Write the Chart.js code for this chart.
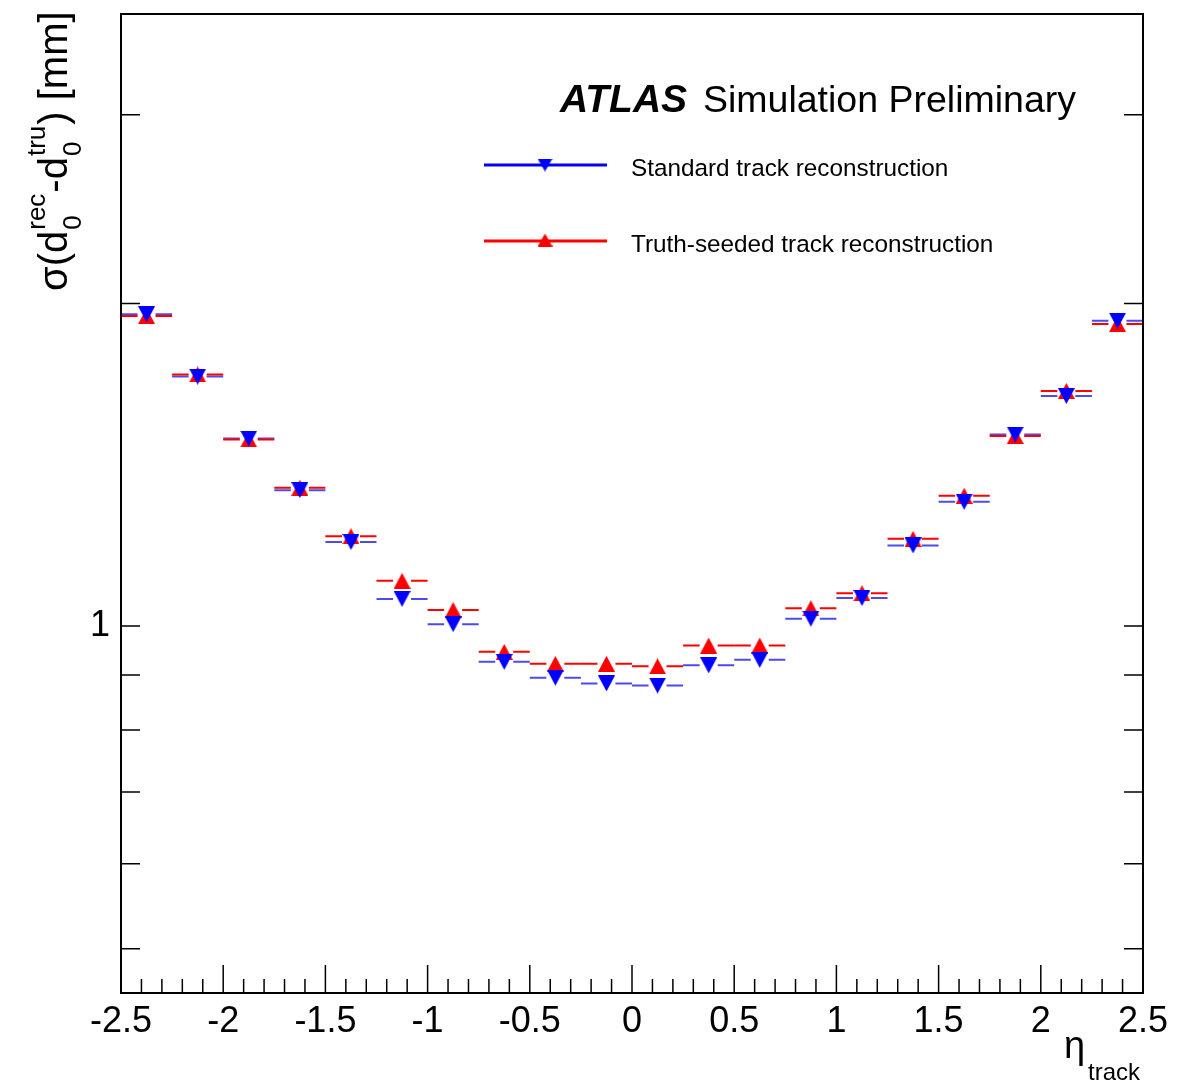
<!DOCTYPE html>
<html lang="en">
<head>
    <meta charset="UTF-8">
    <title>d0 resolution vs eta</title>
    <style>
        html, body { margin: 0; padding: 0; background: #fff; }
        #wrap { width: 1187px; height: 1085px; }
    </style>
</head>
<body>
    <div id="wrap">
        <canvas id="resChart" width="1187" height="1085"></canvas>
    </div>
    <script src="https://cdn.jsdelivr.net/npm/chart.js"></script>

    <script>
        // bin centres in eta, bin width 0.25
        const etaBins = [-2.375, -2.125, -1.875, -1.625, -1.375, -1.125, -0.875, -0.625, -0.375, -0.125,
                          0.125,  0.375,  0.625,  0.875,  1.125,  1.375,  1.625,  1.875,  2.125,  2.375];
        const binHalfWidth = 0.125;

        // sigma(d0 rec - d0 tru) in mm
        const standardReco = [1.954, 1.709, 1.496, 1.339, 1.198, 1.060, 1.004, 0.926, 0.895, 0.884,
                              0.880, 0.919, 0.930, 1.016, 1.062, 1.189, 1.306, 1.509, 1.639, 1.927];
        const truthSeededReco = [1.946, 1.717, 1.493, 1.346, 1.213, 1.102, 1.035, 0.946, 0.922, 0.922,
                                 0.917, 0.959, 0.959, 1.039, 1.073, 1.206, 1.323, 1.504, 1.657, 1.913];

        const seriesNames = ['Standard track reconstruction', 'Truth-seeded track reconstruction'];

        const xTickValues = [-2.5, -2, -1.5, -1, -0.5, 0, 0.5, 1, 1.5, 2, 2.5];
        const yTickValues = [0.5, 0.6, 0.7, 0.8, 0.9, 1, 2, 3];
        const yLabelledTicks = [1];
        const yMin = 0.4546;
        const yMax = 3.724;

        const FONT = '"Liberation Sans", Arial, Helvetica, sans-serif';
        const BLUE = '#0000ff';
        const RED = '#ff0000';

        // ROOT-like triangle markers, centred on their bounding box
        function makeTriangle(color, down, w, h) {
            const c = document.createElement('canvas');
            c.width = w;
            c.height = h;
            const g = c.getContext('2d');
            g.fillStyle = color;
            g.beginPath();
            if (down) {
                g.moveTo(0, 0); g.lineTo(w, 0); g.lineTo(w / 2, h);
            } else {
                g.moveTo(w / 2, 0); g.lineTo(w, h); g.lineTo(0, h);
            }
            g.closePath();
            g.fill();
            return c;
        }
        const downTri = makeTriangle(BLUE, true, 17, 16);
        const upTri = makeTriangle(RED, false, 17, 16);
        const downTriSmall = makeTriangle(BLUE, true, 15, 13);
        const upTriSmall = makeTriangle(RED, false, 15, 13);

        function toPoints(vals) {
            return etaBins.map((x, i) => ({ x: x, y: vals[i] }));
        }

        // error bars, frame, ticks, titles, legend
        const rootStyle = {
            id: 'rootStyle',
            beforeDatasetsDraw(chart) {
                const ctx = chart.ctx;
                const xs = chart.scales.x, ys = chart.scales.y;
                const gap = 9;
                ctx.save();
                chart.data.datasets.forEach(ds => {
                    ctx.strokeStyle = ds.barColor;
                    ctx.lineWidth = 2;
                    ds.data.forEach(p => {
                        const x0 = xs.getPixelForValue(p.x - binHalfWidth);
                        const x1 = xs.getPixelForValue(p.x + binHalfWidth);
                        const xc = xs.getPixelForValue(p.x);
                        const y = ys.getPixelForValue(p.y);
                        ctx.beginPath();
                        ctx.moveTo(x0, y); ctx.lineTo(xc - gap, y);
                        ctx.moveTo(xc + gap, y); ctx.lineTo(x1, y);
                        ctx.stroke();
                    });
                });
                ctx.restore();
            },
            afterDraw(chart) {
                const ctx = chart.ctx;
                const a = chart.chartArea;
                const xs = chart.scales.x, ys = chart.scales.y;
                ctx.save();

                // frame
                ctx.strokeStyle = '#000';
                ctx.lineWidth = 2;
                ctx.strokeRect(a.left, a.top, a.right - a.left, a.bottom - a.top);

                // x ticks, inward from the bottom
                ctx.lineWidth = 1.5;
                for (let i = -25; i <= 25; i++) {
                    const px = xs.getPixelForValue(i / 10);
                    const len = (i % 5 === 0) ? 28 : 14;
                    ctx.beginPath();
                    ctx.moveTo(px, a.bottom);
                    ctx.lineTo(px, a.bottom - len);
                    ctx.stroke();
                }
                // y ticks on both sides
                yTickValues.forEach(v => {
                    const py = ys.getPixelForValue(v);
                    ctx.beginPath();
                    ctx.moveTo(a.left, py); ctx.lineTo(a.left + 19, py);
                    ctx.moveTo(a.right, py); ctx.lineTo(a.right - 19, py);
                    ctx.stroke();
                });

                ctx.fillStyle = '#000';
                ctx.textBaseline = 'alphabetic';
                ctx.textAlign = 'left';

                // ATLAS label
                ctx.font = 'bold italic 39px ' + FONT;
                ctx.fillText('ATLAS', 560, 112);
                ctx.font = '37.5px ' + FONT;
                ctx.fillText('Simulation Preliminary', 703, 112);

                // legend
                const legY = [165, 241];
                const legCol = [BLUE, RED];
                const legMark = [downTriSmall, upTriSmall];
                for (let k = 0; k < 2; k++) {
                    ctx.strokeStyle = legCol[k];
                    ctx.lineWidth = 3;
                    ctx.beginPath();
                    ctx.moveTo(484, legY[k]); ctx.lineTo(607, legY[k]);
                    ctx.stroke();
                    const m = legMark[k];
                    ctx.drawImage(m, 545 - m.width / 2, legY[k] - m.height / 2 + (k === 0 ? 0 : -1));
                    ctx.font = '24.3px ' + FONT;
                    ctx.fillStyle = '#000';
                    ctx.fillText(seriesNames[k], 631, legY[k] + 11);
                }

                // x title: eta_track
                ctx.font = '38px ' + FONT;
                ctx.fillText('\u03b7', 1064, 1058);
                ctx.font = '24px ' + FONT;
                ctx.fillText('track', 1088, 1080);

                // y title: sigma(d0^rec - d0^tru) [mm], rotated
                ctx.translate(67, 291);
                ctx.rotate(-Math.PI / 2);
                let cx = 0;
                const big = '40px ' + FONT, small = '26px ' + FONT;
                function run(t) {
                    ctx.font = big;
                    ctx.fillText(t, cx, 0);
                    cx += ctx.measureText(t).width;
                }
                function supSub(sup, sub) {
                    ctx.font = small;
                    ctx.fillText(sup, cx + 1, -22);
                    ctx.fillText(sub, cx + 1, 14);
                    cx += Math.max(ctx.measureText(sup).width, ctx.measureText(sub).width) + 2;
                }
                run('\u03c3(d');
                supSub('rec', '0');
                run('-d');
                supSub('tru', '0');
                run(') [mm]');

                ctx.restore();
            }
        };

        new Chart(document.getElementById('resChart'), {
            type: 'scatter',
            data: {
                datasets: [
                    {
                        label: seriesNames[0],
                        data: toPoints(standardReco),
                        pointStyle: downTri,
                        barColor: '#4b4bf0',
                        showLine: false
                    },
                    {
                        label: seriesNames[1],
                        data: toPoints(truthSeededReco),
                        pointStyle: upTri,
                        barColor: RED,
                        showLine: false
                    }
                ]
            },
            options: {
                responsive: false,
                animation: false,
                devicePixelRatio: 1,
                layout: { padding: { left: 0, top: 14, right: 44, bottom: 0 } },
                plugins: {
                    legend: { display: false },
                    tooltip: { enabled: false },
                    title: { display: false }
                },
                scales: {
                    x: {
                        type: 'linear',
                        min: -2.5,
                        max: 2.5,
                        afterBuildTicks: s => { s.ticks = xTickValues.map(v => ({ value: v })); },
                        afterFit: s => { s.height = 92; s.paddingLeft = 0; s.paddingRight = 0; },
                        grid: { display: false, drawTicks: false },
                        border: { display: false },
                        ticks: {
                            autoSkip: false,
                            maxRotation: 0,
                            padding: 7,
                            color: '#000',
                            font: { family: FONT, size: 36 },
                            callback: v => String(v)
                        }
                    },
                    y: {
                        type: 'logarithmic',
                        min: yMin,
                        max: yMax,
                        afterBuildTicks: s => { s.ticks = yTickValues.map(v => ({ value: v })); },
                        afterFit: s => { s.width = 121; s.paddingTop = 0; s.paddingBottom = 0; },
                        grid: { display: false, drawTicks: false },
                        border: { display: false },
                        ticks: {
                            autoSkip: false,
                            padding: 11,
                            color: '#000',
                            font: { family: FONT, size: 36 },
                            callback: v => yLabelledTicks.includes(v) ? String(v) : ''
                        }
                    }
                }
            },
            plugins: [rootStyle]
        });
    </script>
</body>
</html>
